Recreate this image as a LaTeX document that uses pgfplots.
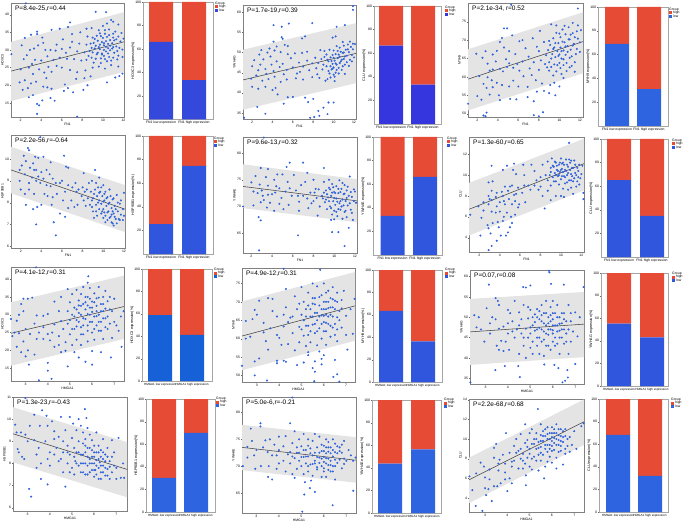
\documentclass[border=0pt]{standalone}
\usepackage{fontspec}
\setmainfont{Liberation Sans}
\usepackage{pgfplots}
\pgfplotsset{compat=1.18}
\definecolor{bandc}{HTML}{E4E4E4}
\definecolor{ptc}{HTML}{2F62DC}
\definecolor{redc}{HTML}{E64B35}
\definecolor{fitc}{HTML}{444444}
\definecolor{bluea}{HTML}{3548DC}
\definecolor{blueb}{HTML}{3636DE}
\definecolor{bluec}{HTML}{2F64E0}
\definecolor{blued}{HTML}{3056DE}
\definecolor{bluee}{HTML}{1660D8}
\newcommand{\tk}{\fontsize{3.4}{3.6}\selectfont}
\newcommand{\lb}{\fontsize{3.7}{4}\selectfont}
\newcommand{\hmf}{\fontsize{3.05}{3.4}\selectfont}
\newcommand{\ttl}{\fontsize{6.5}{7}\selectfont}
\pgfplotsset{
  base/.style n args={4}{scale only axis, anchor=north west,
    at={(#1pt,{(523-#3)*1pt})}, width={(#2-#1)*1pt}, height={(#4-#3)*1pt},
    /pgf/number format/assume math mode=true,
    xtick pos=bottom, ytick pos=left, tick align=outside, major tick length=1pt,
    tick style={line width=.2pt,black!60},
    xticklabel style={font=\tk,inner sep=.8pt},
    yticklabel style={font=\tk,inner sep=.8pt},
    xlabel style={font=\tk,inner sep=.5pt},
    ylabel style={font=\tk,inner sep=.5pt},
    scaled ticks=false},
  sc/.style n args={4}{base={#1}{#2}{#3}{#4},
    axis line style={line width=.25pt,black!50}},
  br/.style n args={6}{base={#1}{#2}{#3}{#4},
    axis line style={line width=.25pt,black!35},
    ymin=0, ymax=100, xtick={0,1},
    xmin={(#1-#5)/(#6-#5)}, xmax={1+(#2-#6)/(#6-#5)},
    ybar stacked, bar width=24pt,
    xticklabel style={font=\tk,inner sep=.8pt},
    ylabel style={font=\lb,inner sep=.5pt},
    ylabel shift=-1pt},
  hm/.style={xticklabel style={font=\hmf,inner sep=.8pt}},
  band/.style={fill=bandc,draw=none},
  fit/.style={line width=.55pt,fitc},
  pts/.style={only marks,mark=*,mark size=.8pt,mark options={fill=ptc,draw=none},color=ptc},
}
\newcommand{\ptext}[1]{\node[anchor=west,font=\ttl,inner sep=0pt] at (axis description cs:0.035,0.95) {#1};}
\newcommand{\grp}[3]{%
  \node[anchor=west,font=\tk,inner sep=0pt] at (#1pt,{(523-#2-1.5)*1pt}) {Group};
  \fill[redc] (#1pt,{(523-#2-6.5)*1pt}) rectangle ({(#1+3)*1pt},{(523-#2-3.5)*1pt});
  \fill[#3] (#1pt,{(523-#2-10)*1pt}) rectangle ({(#1+3)*1pt},{(523-#2-7)*1pt});
  \node[anchor=west,font=\tk,inner sep=0pt] at ({(#1+4)*1pt},{(523-#2-5)*1pt}) {high};
  \node[anchor=west,font=\tk,inner sep=0pt] at ({(#1+4)*1pt},{(523-#2-8.5)*1pt}) {low};
}
\newcommand{\bars}[5]{%
  \addplot[fill=#1,draw=none] coordinates {(0,#2)(1,#3)};
  \addplot[fill=redc,draw=none] coordinates {(0,#4)(1,#5)};
}
\begin{document}
\begin{tikzpicture}
\useasboundingbox (0,0) rectangle (685pt,523pt);

% ---------- row 1
\begin{axis}[sc={11}{124}{3}{117}, xmin=1.06,xmax=12.05,ymin=11,ymax=43.3, xtick={2,4,...,12}, ytick={15,20,...,40}, xlabel={FN1}, ylabel={HOXC3}]
\addplot[band] coordinates {(1.06,32.3)(12.05,40.7)(12.05,23.8)(1.06,15.5)} -- cycle;
\addplot[pts] coordinates {(2.5,43.2)(1.1,28.8)(3.6,11.9)(7.5,11.1)(3.8,14.3)(3.6,14.7)(4.1,15.7)(4.9,16.4)(5.3,15.6)(2.8,16.6)(3.2,17.2)(2.2,18.7)(2.7,19.2)(3,20.5)(1.9,20.8)(2.4,21.4)(3.5,21)(4.2,19.6)(4.6,19.4)(5,19)(6.2,18.4)(6.6,19.2)(7.1,18)(8.1,18.7)(8.5,20)(6.3,20.2)(7.4,21.8)(8.2,22)(8.8,22.5)(10.4,20.8)(11.6,22.6)(11.2,22.2)(11.9,23.3)(2,24.5)(2.8,25)(3.2,23.2)(3.8,24.5)(4.3,23.6)(5,23.8)(5.5,25.5)(6,25)(6.8,24.3)(7.5,23.7)(8.3,24.2)(9,25)(9.6,25.3)(10.2,24.7)(10.8,25.7)(11.5,25.3)(2.3,27.4)(2.6,28.5)(3.4,27.2)(4,27)(4.6,28.2)(5.2,27.2)(5.8,27.8)(6.5,27.5)(7.2,27.4)(7.9,27)(8.4,27.2)(8.9,27.8)(9.3,27.5)(9.8,27.6)(10.2,27.4)(10.6,28)(11,27.8)(11.5,28.4)(2.1,31.3)(3.3,30.4)(3.7,31.3)(4.4,30)(4.9,30)(5.4,29.8)(6,30.3)(6.8,30.7)(7.5,29.6)(8.2,29.3)(8.7,29.7)(9,29.3)(9.2,30.4)(9.5,29.2)(9.7,30.2)(9.9,29)(10.1,30)(10.3,29.6)(10.5,30.5)(10.7,29.9)(11,30.8)(11.4,29.7)(11.9,30.1)(8.4,31.5)(8.8,31.8)(9.1,32)(9.3,31.2)(9.5,32.6)(9.7,31.5)(9.9,32.2)(10.1,31.3)(10.3,32.5)(10.5,31.7)(10.7,32.8)(10.9,31.9)(11.1,32.7)(11.3,33)(11.7,32.4)(12,33.2)(2.4,33.4)(3,34.3)(3.6,34.5)(4.1,33.5)(5,35.7)(5.8,36)(6.6,36.5)(7,34.5)(7.8,35)(8.5,33.8)(9,33.5)(9.4,34)(9.8,33.9)(10.2,34.6)(10.6,34.2)(11,34.6)(8.9,36.2)(9.6,35.6)(10,36.8)(10.4,37.5)(10.8,38.5)(11,38)(11.5,37.2)(3.6,35.2)(6.8,37.8)(8.4,36)(9.3,40.8)(10.3,40.7)(8.6,28.3)(8.9,30.6)(9.1,26.4)(9.2,33.1)(9.4,28.8)(9.6,30.8)(9.7,34.7)(9.8,26.3)(9.9,28.7)(10,33.4)(10.1,31.9)(10.1,28.3)(10.2,35.6)(10.3,30.9)(10.4,26.8)(10.4,33.7)(10.5,29)(10.6,35.8)(10.7,31.2)(10.8,27)(10.9,30.4)(11,33.5)(11.1,29.2)(11.2,35.2)(11.3,31)(11.4,27.3)(11.5,33.8)(11.6,30.6)(11.8,34.8)(11.9,28)(2.9,30)(4.2,32)(3.1,26)(4.7,25.2)(5.5,31.5)(6.4,29.2)(7,32.3)(7.7,31.8)(6.1,33)(4.5,22)};
\addplot[fit] coordinates {(1.06,24)(12.05,32.3)};
\ptext{P=8.4e-25,r=0.44}
\end{axis}
\begin{axis}[br={143}{213}{2}{119.5}{161}{194}, ytick={20,40,...,100}, xticklabels={FN1 low expression,FN1 high expression}, ylabel={HOXC3 expression(\%)}]
\bars{bluea}{66}{33.5}{34}{66.5}
\end{axis}
\grp{215}{2}{bluea}

\begin{axis}[sc={243}{356}{5}{119}, xmin=1.1,xmax=12.2,ymin=33.5,ymax=61.8, xtick={2,4,...,12}, ytick={35,40,...,60}, xlabel={FN1}, ylabel={YWHAG}]
\addplot[band] coordinates {(1.1,50.7)(12.2,57.3)(12.2,42.4)(1.1,35.8)} -- cycle;
\addplot[pts] coordinates {(11.9,61.5)(11.9,60.6)(4.1,56.8)(4.9,56.4)(5.6,57.2)(7.9,57.3)(10.3,56.4)(11.1,56.8)(4.1,52.7)(4.9,53.8)(5,53.4)(6.9,53.5)(7.2,54)(9.9,53.7)(10.2,54)(3.7,51)(4.4,51.5)(5.2,51.9)(5.5,51.6)(2.9,50.6)(3.5,50)(4.2,50.5)(4.8,50.1)(5.5,49.6)(6.2,49.8)(6.9,49.9)(7.4,50.2)(2.2,48.1)(2.7,49.5)(3.1,48.3)(3.8,49)(4.4,47.8)(5,47.2)(5.8,48.6)(6.6,47.5)(7.4,48)(2,46.6)(2.6,45.6)(3.3,45.9)(4.1,45.4)(4.7,46.4)(5.4,45.7)(6,46.3)(6.7,45.2)(7.6,45.6)(8.3,46.1)(1.9,43.5)(2.4,44.3)(3,43)(3.6,43.4)(4.2,44)(4.8,42.7)(5.4,43.3)(6.3,43.6)(7,43.3)(7.9,43.9)(8.6,43.7)(9.2,43)(2,41.5)(2.6,41)(3.3,41.5)(4,40.7)(4.5,39.6)(4.3,41.2)(5.5,38.9)(6,39)(7.2,38.8)(7.5,37.7)(8,38.5)(9.5,37.6)(10,37.6)(8.5,35.5)(9,36.3)(9.4,34.7)(8.1,34)(8.6,34.3)(1.2,33.8)(2.5,36.5)(3.3,34.8)(5.1,37.3)(7.7,33.8)(8.5,47.4)(8.8,48.4)(9,47)(9.1,48.9)(9.3,46.6)(9.3,49.5)(9.5,45.4)(9.5,47.8)(9.6,44.8)(9.7,46.6)(9.7,48.8)(9.8,45.8)(9.9,47.2)(9.9,49.4)(10,44.5)(10,46.3)(10.1,48)(10.2,45)(10.2,49.6)(10.3,47)(10.4,50.4)(10.4,48.6)(10.5,46.2)(10.6,49)(10.6,51.2)(10.7,47.8)(10.8,45.7)(10.9,49.9)(11,48.4)(11,51.7)(11.1,47)(11.2,50.7)(11.3,49.2)(11.4,52)(11.5,50.1)(11.6,48.2)(11.7,51.4)(11.8,49.4)(11.9,50.8)(12.1,52.1)(9.4,43.4)(10.1,42.9)(8.9,45.8)(9.1,50.4)(9.4,48.2)(9.6,50.7)(9.7,43.8)(9.8,47.9)(9.9,46)(10,50.5)(10,48.7)(10.1,44)(10.2,47.3)(10.3,51.6)(10.3,45.7)(10.5,49.5)(10.5,44.8)(10.6,47.4)(10.7,50.2)(10.8,48.2)(10.9,46.6)(10.9,52.6)(11,50)(11.1,44.7)(11.1,49)(11.3,47.6)(11.4,50.8)(11.5,46.7)(11.6,52.7)(11.8,47.8)(11.9,52.2)(12,48.8)(8.2,48.7)(7.9,47.3)(8.4,44.6)(8.7,50.6)(6.4,44.8)(5.1,44.6)(3.9,47)(2.8,47)(3.4,44.7)(7,46.5)};
\addplot[fit] coordinates {(1.1,43.2)(12.2,49.8)};
\ptext{P=1.7e-19,r=0.39}
\end{axis}
\begin{axis}[br={374}{441}{6}{124}{391}{423}, ytick={20,40,...,100}, xticklabels={FN1 low expression,FN1 high expression}, ylabel={CLU expression(\%)}]
\bars{blueb}{66.4}{33.3}{33.6}{66.7}
\end{axis}
\grp{445}{6}{blueb}

\begin{axis}[sc={468}{583}{3}{117}, xmin=1.09,xmax=12.3,ymin=49.1,ymax=80.1, xtick={2,4,...,12}, ytick={50,55,...,75}, xlabel={FN1}, ylabel={MYH9}]
\addplot[band] coordinates {(1.09,67.5)(12.3,77.6)(12.3,61)(1.09,50.9)} -- cycle;
\addplot[pts] coordinates {(5.3,79.6)(11.8,78.6)(4.6,73.2)(4.9,73.2)(1.1,52.7)(2.9,50.3)(2.6,49.5)(2.8,49.3)(7.5,49.6)(8.4,50.4)(8,49.3)(1.9,66.3)(2.2,60.2)(2.5,65.2)(2.8,67)(3,63.6)(3.2,61.7)(3.5,66.1)(3.8,64.2)(3.9,67.1)(4.2,69.5)(4.4,70.6)(4.6,68)(4.8,64.8)(5.1,67)(5.4,71.3)(5.7,66.2)(6.1,69.7)(6.4,70)(6.7,67.8)(7,65.5)(7.4,70.5)(7.8,68.2)(8.1,72.5)(8.5,69.5)(2.6,58.1)(3,59.9)(3.2,55.2)(3.5,57.2)(3.9,58.4)(4.1,55)(4.4,57.8)(4.5,61.5)(4.9,62.7)(5.1,57.4)(5.5,59)(5.2,54)(5.8,53.9)(6.1,61.7)(6.5,60.2)(6.9,57.3)(7.1,62.3)(7.5,64)(7.7,59.1)(8,61.9)(8.3,58.2)(8.6,63.5)(9,61.7)(9.1,57.8)(2,54.8)(2.4,53.8)(3.4,59.1)(4.2,53.7)(5.5,62.5)(6.9,54.5)(7.5,53.4)(8.5,56.2)(9,55.6)(9.6,55)(9.5,58.4)(10,57.4)(10.4,59.7)(8.7,65.9)(8.9,67.3)(9,64)(9.1,68.7)(9.2,62.7)(9.3,66.2)(9.4,70.5)(9.5,63.4)(9.5,68)(9.6,65.4)(9.7,61.5)(9.7,72)(9.8,67)(9.9,69.2)(10,63.8)(10,66.1)(10.1,70.8)(10.1,68)(10.2,60.8)(10.2,65)(10.3,72.9)(10.4,67.2)(10.4,63.2)(10.5,69.4)(10.6,66)(10.6,71.6)(10.7,61.6)(10.8,68.4)(10.9,73.5)(11,65.2)(11,70.2)(11.1,67.4)(11.2,63)(11.3,71.9)(11.3,74.7)(11.4,69)(11.6,66.2)(11.7,72.4)(11.8,74)(12,69.4)(12.1,72.7)(11.5,61.4)(9.2,74.3)(9.7,74)(8.8,62.6)(9,69.8)(9.2,65)(9.4,67.6)(9.4,60.4)(9.6,69.2)(9.8,63.2)(9.9,65.7)(10,71.8)(10.1,62.4)(10.2,67)(10.3,69.6)(10.4,64.8)(10.5,73.9)(10.6,68.3)(10.7,63.8)(10.8,66.8)(10.9,70.2)(11,62.6)(11.1,71.5)(11.2,65.6)(11.3,68.5)(11.5,64)(11.5,70.8)(11.7,67.6)(11.8,70.4)(12,66.8)(8,67)(8.2,64.5)(7.3,60.5)(6.4,64.2)(5.9,63.5)(5.1,63.7)(4.2,62.2)(3.5,62)(2.9,57)(6,57.4)(7.8,56)};
\addplot[fit] coordinates {(1.09,59.4)(12.3,69.6)};
\ptext{P=2.1e-34, r=0.52}
\end{axis}
\begin{axis}[br={598}{668}{7}{126}{617}{649}, ytick={20,40,...,100}, xticklabels={FN1 low expression,FN1 high expression}, ylabel={MYH9 expression(\%)}]
\bars{bluec}{69}{31}{31}{69}
\end{axis}
\grp{669}{8}{bluec}

% ---------- row 2
\begin{axis}[sc={11}{125}{135}{248}, xmin=1.06,xmax=12.1,ymin=5.92,ymax=11.1, xtick={2,4,...,12}, ytick={6,7,...,10}, xlabel={FN1}, ylabel={HSP90B1}]
\addplot[band] coordinates {(1.06,10.56)(12.1,8.8)(12.1,6.65)(1.06,8.43)} -- cycle;
\addplot[pts] coordinates {(3.9,11)(2.7,10.5)(2.8,10.4)(2.3,10.15)(6.2,10.15)(3.5,7)(5.4,6.5)(5.2,7.1)(5.8,7.5)(6.3,7.35)(2.5,7.9)(3.2,7.7)(3.6,7.8)(4,7.9)(3.3,8.4)(2.8,8.6)(2,8.6)(1.9,9)(2.4,9.3)(1.9,9.5)(2.1,9.7)(2.5,9.9)(2.9,9.6)(3.2,9.8)(3.4,10.1)(3.7,10.05)(3.5,9.5)(4,9.4)(4.2,10.1)(4.5,9.5)(4.2,9.1)(3.9,8.9)(3.5,9)(3.1,9.15)(2.8,8.9)(4.5,8.8)(4.9,8.75)(4.8,9.3)(4.9,9.85)(5.1,9.1)(5.5,8.4)(4.6,8.3)(5.1,8.25)(5,7.9)(5.8,8.9)(6,9)(6.4,9.65)(6.6,9.6)(6.3,8.5)(6.6,8.8)(7,8.7)(7.3,8.9)(7.5,7.9)(7.2,7.8)(6.6,7.75)(6.9,8.1)(7.6,8.6)(8,8.7)(8.1,9.35)(8.1,8.1)(8.3,7.85)(8.6,8.9)(8.9,9)(8.9,7.8)(9.2,9.5)(9.3,8.9)(9.6,9.15)(9.1,7.3)(8.8,8.5)(9,8.2)(9.2,8.6)(9.3,7.9)(9.4,8.3)(9.5,8.7)(9.6,7.7)(9.6,8.1)(9.7,8.5)(9.8,7.5)(9.8,7.95)(9.9,8.3)(10,7.3)(10,8.8)(10,7.7)(10.1,8.1)(10.2,7.4)(10.2,8.5)(10.3,7.85)(10.4,7.2)(10.4,8.25)(10.5,7.6)(10.6,8)(10.6,8.6)(10.7,7.35)(10.8,7.75)(10.9,8.15)(10.9,7.05)(11,7.5)(11.1,7.85)(11.2,7.25)(11.3,8.35)(11.4,7.6)(11.5,7.25)(11.6,7.95)(11.7,7.45)(11.9,7.7)(12,8.45)(12,7.4)(11,6.95)(10.8,7.45)(9,7.6)(9.4,7.4)(8.9,8.1)(9.1,8.4)(9.3,7.6)(9.5,8)(9.6,8.45)(9.8,8.7)(9.9,7.6)(10,8.05)(10.1,7.55)(10.1,8.4)(10.2,7.1)(10.3,8.2)(10.4,7.55)(10.5,7.95)(10.6,7.3)(10.7,8.3)(10.8,7.1)(10.9,7.6)(11,8.2)(11.1,7.35)(11.2,7.7)(11.3,7.05)(11.4,8)(11.6,7.2)(11.7,8.1)(11.9,7.2)(8.2,8.5)(8.5,8.2)(8.7,7.9)(8.4,8.6)(7.9,8.3)(7.4,8.5)(6.1,8.1)(5.4,8.9)(4.3,8.4)(3.7,9.2)(3.3,9.5)(2.4,8.4)};
\addplot[fit] coordinates {(1.06,9.5)(12.1,7.7)};
\ptext{P=2.2e-56,r=-0.64}
\end{axis}
\begin{axis}[br={143}{213}{136}{254}{161}{194}, ytick={20,40,...,100}, xticklabels={FN1 low expression,FN1 high expression}, ylabel={HSP90B1 expression(\%)}]
\bars{blued}{25.4}{74.6}{74.6}{25.4}
\end{axis}
\grp{214}{137}{blued}

\begin{axis}[sc={243}{357}{137}{253}, xmin=1.19,xmax=12.2,ymin=61.3,ymax=83, xtick={2,4,...,12}, ytick={65,70,...,80}, xlabel={FN1}, ylabel={YWHAE}]
\addplot[band] coordinates {(1.19,77.9)(12.2,75.1)(12.2,67.05)(1.19,69.7)} -- cycle;
\addplot[pts] coordinates {(3.2,82.9)(2.75,61.8)(6.5,64.6)(11,62.6)(9.8,65.2)(10.4,65.2)(11.4,66)(5.7,78.2)(7,78.2)(9,77.2)(5.4,77.4)(2.9,77.2)(3.6,77)(1.2,70)(2.7,68)(2.9,67.4)(2,74.5)(2.2,72.8)(2.4,75.7)(2.8,74.1)(3,73)(3.2,71.2)(3.4,75.5)(3.6,73.9)(3.8,70.7)(4,72.3)(4.2,75)(4.5,76)(4.7,73.4)(4.9,71.6)(5,76)(5.1,69.5)(5.3,72.8)(5.5,74.6)(5.6,70.3)(5.9,72)(6.1,75.9)(6.3,73)(6.6,70.9)(6.6,69.2)(6.8,74)(7,72)(7.2,74.6)(7.4,76.3)(7.5,69.7)(7.7,72.6)(8,75)(8,71)(8.2,73.3)(2.2,70.2)(2.9,70.8)(3.5,69.8)(4.2,69.2)(4.7,70.5)(4.3,72.6)(3.1,72)(8.4,68.3)(8.9,71.5)(8.5,73.2)(8.8,72)(9,74.6)(9.1,70.8)(9.2,73)(9.3,69.5)(9.4,71.7)(9.5,75)(9.6,73.2)(9.6,70)(9.7,72)(9.8,68.5)(9.8,74.2)(9.9,71)(10,69.2)(10,72.7)(10.1,70.3)(10.2,73.8)(10.2,71.5)(10.3,68.2)(10.4,72.5)(10.4,69.5)(10.5,74.9)(10.6,71)(10.7,73.3)(10.7,70)(10.8,67.7)(10.9,72.3)(11,69)(11,74)(11.1,71)(11.2,73)(11.2,68)(11.3,70.2)(11.4,72)(11.5,75.6)(11.6,69.4)(11.7,71.8)(11.8,67.5)(11.9,73.2)(12.1,70.7)(12,72.8)(10,67.6)(9.7,67.5)(9,72.6)(9.2,71.3)(9.3,72.3)(9.5,71)(9.5,73.5)(9.7,69.7)(9.8,72.6)(9.9,73.6)(10,71.6)(10.1,72.5)(10.2,69)(10.3,70.9)(10.4,73.3)(10.5,70.6)(10.6,72.7)(10.6,69.4)(10.8,71.3)(10.8,74.4)(10.9,70.2)(11,72.4)(11.1,69.2)(11.2,71.6)(11.3,73.7)(11.5,70.6)(11.6,72.7)(11.7,68.8)(11.9,71)(8.6,70)(8.3,71.6)(8.1,72.6)(7.8,70.6)(7.4,71.5)(6.5,72)(5.7,73.4)(4.4,73.8)(3.6,72.2)(2.6,72.5)};
\addplot[fit] coordinates {(1.19,73.75)(12.2,71.05)};
\ptext{P=9.6e-13,r=0.32}
\end{axis}
\begin{axis}[br={373}{442}{137}{255}{392.5}{425}, ytick={20,40,...,100}, xticklabels={FN1 low expression,FN1 high expression}, ylabel={YWHAE expression(\%)}]
\bars{blued}{33.1}{66.3}{66.9}{33.7}
\end{axis}
\grp{447}{137}{blued}

\begin{axis}[sc={469}{584}{137}{252}, xmin=0.98,xmax=12.26,ymin=2.62,ymax=13.66, xtick={2,4,...,12}, ytick={4,6,...,12}, xlabel={FN1}, ylabel={CLU}]
\addplot[band] coordinates {(0.98,9.25)(12.26,13.5)(12.26,8.54)(0.98,4.2)} -- cycle;
\addplot[pts] coordinates {(10.8,13.1)(3.2,10.9)(2.9,2.8)(3.2,3.2)(3.7,3.7)(1.1,6.2)(2.1,4.2)(12.2,8.3)(12.2,7.7)(3.1,4.4)(2.9,4.9)(3.9,5)(4.1,4.2)(4.6,4.2)(4.8,4.5)(5,5)(5.2,5.4)(4.3,5.6)(3.8,5.5)(3.3,5.4)(2.8,5.2)(2.2,5.9)(2.4,6.6)(2.9,7.2)(1.9,7)(3.2,6.5)(3.6,6.4)(4,6.5)(4.4,6)(4.7,6.4)(5.1,6)(5.5,6.2)(5.9,7.2)(2.4,7.4)(2.9,8)(3.2,7.6)(3.6,7.9)(4,7.4)(4.3,8)(4.5,7.2)(4.9,7.7)(5.2,7.2)(5.4,8.1)(5.8,6.9)(3.3,9.4)(2.9,9.3)(3.2,8.5)(3.7,8.3)(4.2,8.4)(4.5,8.9)(4.8,8.5)(5.2,9)(5.6,8.2)(5.8,8.8)(6.2,8.3)(6.5,7.4)(6.4,9)(6.8,9)(7,8.6)(4.3,10.5)(4.7,10.9)(5.3,10.5)(5.6,10.1)(5.4,11.1)(6.3,11)(6.4,10)(7.1,11)(7.4,10.4)(7.6,9.5)(7.8,8.6)(8.4,6.8)(8.2,8)(8.7,8.5)(9,9)(9,7.6)(9.5,8)(8,9.8)(8.2,11)(8.5,10)(8.7,11.3)(9,10.7)(8.9,10)(9.1,11.6)(9.2,9.8)(9.3,10.8)(9.4,10.2)(9.5,9.4)(9.5,11.2)(9.6,10.5)(9.7,9.9)(9.8,11)(9.8,9.1)(9.9,10.3)(10,11.6)(10,9.6)(10.1,10.6)(10.2,8.7)(10.2,11.2)(10.3,9.9)(10.4,10.5)(10.4,9.2)(10.5,11.5)(10.6,10)(10.7,8.6)(10.7,10.8)(10.8,9.5)(10.9,11.2)(11,10.1)(11,8.8)(11.1,10.7)(11.2,9.4)(11.3,11.4)(11.4,10.2)(11.5,8.9)(11.6,10.7)(11.7,9.8)(11.8,9.1)(11.8,11)(12,10.1)(12.1,10.9)(11.2,8.2)(10.3,7.9)(10,8)(9,10.3)(9.2,10.9)(9.3,9.4)(9.4,11.3)(9.5,10)(9.6,10.9)(9.7,10.4)(9.8,10)(9.9,11.2)(10,10.5)(10.1,9.9)(10.1,11.1)(10.2,10.3)(10.3,11)(10.4,9.8)(10.5,10.4)(10.6,11)(10.6,9.3)(10.7,10.2)(10.8,11.5)(10.9,10.5)(11,9.5)(11,11.4)(11.1,9.9)(11.2,10.7)(11.3,9.7)(11.4,11)(11.5,10)(11.6,9.4)(11.7,10.4)(11.9,9.7)(3.7,7)(4.4,7.5)(5,8.9)(3,7.7)(5.5,7.5)(8,8.9)(8.7,9.5)(7.4,9)};
\addplot[fit] coordinates {(0.98,6.72)(12.26,11.1)};
\ptext{P=1.3e-60,r=0.65}
\end{axis}
\begin{axis}[br={601}{668}{139}{257}{619}{652}, ytick={20,40,...,100}, xticklabels={FN1 low expression,FN1 high expression}, ylabel={CLU expression(\%)}]
\bars{blued}{65.2}{34.8}{34.8}{65.2}
\end{axis}
\grp{672}{139}{blued}

% ---------- row 3
\begin{axis}[sc={11}{124}{267}{381}, xmin=2.34,xmax=7.44,ymin=11.4,ymax=43.4, xtick={3,...,7}, ytick={15,20,...,40}, xlabel={HMGA1}, ylabel={HOXC3}]
\addplot[band] coordinates {(2.34,33.5)(7.44,41)(7.44,23.2)(2.34,15.7)} -- cycle;
\addplot[pts] coordinates {(3.47,43.3)(5.83,40.8)(5.8,39)(2.34,28.8)(4.17,12)(4,14.3)(4,16.5)(3.6,11.6)(3.15,16)(4.9,15.5)(6,16)(6.85,18)(7.33,21)(7.42,31)(2.5,25)(2.4,24)(2.7,24.8)(2.8,33)(2.9,34.5)(2.9,31)(3.1,34.5)(3.3,34.8)(2.7,30)(2.6,28.3)(3,26)(2.9,22.5)(2.6,21)(3.1,20)(2.8,19.5)(3,18.3)(3.4,18.8)(3.6,25)(3.4,27.5)(3.2,24.6)(3.5,29.8)(3.5,23.2)(3.8,23.2)(3.8,29.7)(4,30.2)(4,24.6)(4.1,22.8)(4.3,27.3)(4.3,33.7)(4.3,21)(4.5,24)(4.6,19.5)(4.6,28.2)(4.6,35)(4.8,19.9)(4.8,22.3)(4.9,31)(4.9,27.5)(4.9,37.2)(5,24.5)(5,33.5)(5.1,21.5)(5.1,30)(5.1,35.8)(5.2,26)(5.2,19.5)(5.2,32)(5.3,28.5)(5.3,37)(5.3,23)(5.4,30.5)(5.4,34)(5.4,18)(5.5,26.5)(5.5,32.5)(5.5,21.5)(5.5,35.8)(5.6,29)(5.6,37.8)(5.6,24.5)(5.7,31.5)(5.7,33.5)(5.7,16.8)(5.8,27)(5.8,30.2)(5.8,35)(5.8,22.5)(5.9,32)(5.9,28)(5.9,37.5)(6,25)(6,30.8)(6,33.7)(6,19.8)(6.1,29.5)(6.1,36)(6.1,23)(6.2,32.5)(6.2,27)(6.2,34.6)(6.3,30)(6.3,25.5)(6.3,37.8)(6.4,28)(6.4,33)(6.4,19.5)(6.5,31)(6.5,35)(6.5,23.2)(6.6,29)(6.6,36.7)(6.7,26)(6.7,33.8)(6.8,31.5)(6.9,23.5)(7,34.5)(7,28)(7.1,27)(7.2,25.5)(7.3,29.5)(5,28.5)(5.1,26)(5.2,29.5)(5.3,31.5)(5.3,26.7)(5.4,28)(5.4,32.6)(5.5,30)(5.5,24.5)(5.6,33)(5.6,27)(5.7,28.8)(5.7,35)(5.8,32.6)(5.8,25.5)(5.9,30)(5.9,34.5)(6,28)(6,32)(6.1,26)(6.1,33.5)(6.2,29.6)(6.2,31)(6.3,34.8)(6.3,28)(6.4,31)(6.4,25.5)(6.5,29)(6.5,33)(6.6,31.7)(6.6,26.5)(6.7,29.5)(6.8,35)(6.8,27.5)(6.9,31)(4.5,31)(4.7,26)(4.2,25)(3.8,26.5)(4.5,21.5)};
\addplot[fit] coordinates {(2.34,24.8)(7.44,32.3)};
\ptext{P=4.1e-12,r=0.31}
\end{axis}
\begin{axis}[br={142}{212}{269}{381}{160}{192}, hm, ytick={0,20,...,100}, xticklabels={HMGA1 low expression,HMGA1 high expression}, ylabel={HOXC3 expression(\%)}]
\bars{bluee}{58.9}{41.1}{41.1}{58.9}
\end{axis}
\grp{214}{268}{bluee}

\begin{axis}[sc={242}{355}{268}{382}, xmin=2.33,xmax=7.4,ymin=48.2,ymax=79.2, xtick={3,...,7}, ytick={50,55,...,75}, xlabel={HMGA1}, ylabel={MYH9}]
\addplot[band] coordinates {(2.33,70.1)(7.4,78.1)(7.4,59.4)(2.33,51.4)} -- cycle;
\addplot[pts] coordinates {(4.2,79)(5.84,78.7)(2.33,52.6)(2.9,50)(3.45,48.6)(5.57,48.4)(6.7,48.3)(6.6,50.3)(6.43,49.6)(7.3,61.3)(7.06,57)(7.38,70.8)(3.9,53.3)(2.9,53.8)(3.1,54.6)(3.9,54)(4.2,54)(4.3,53.7)(4.8,52.8)(5.1,53.5)(5.3,55.5)(5.3,56.3)(5.6,53.8)(5.5,52)(5.6,51)(5.8,56.5)(5.9,54.5)(6,55.5)(5.9,53)(6.5,54.2)(2.5,64.8)(2.5,60)(2.7,60.5)(2.8,65.3)(2.9,67.8)(3,66.5)(3.1,70.3)(3.3,64.3)(3.3,61.7)(3.4,59.3)(3.5,71)(3.5,57)(3.6,62.8)(3.7,70.8)(3.7,67.5)(3.9,66)(4,60.2)(4.1,58.3)(4.2,63.3)(4.3,73.5)(4.3,68.5)(4.4,58.5)(4.5,65.7)(4.6,61.5)(4.7,71.5)(4.7,56.8)(4.8,68)(4.9,63.2)(4.9,59)(5,74)(5,66.5)(5.1,60.8)(5.1,70)(5.2,58)(5.2,63.5)(5.2,68)(5.3,72.5)(5.3,61)(5.4,66)(5.4,59)(5.5,75)(5.5,69.5)(5.5,63.8)(5.6,61.5)(5.6,67)(5.6,71)(5.7,65)(5.7,58.2)(5.7,74.2)(5.8,69)(5.8,62.8)(5.9,66.3)(5.9,71.8)(5.9,60)(6,68)(6,64.5)(6,75)(6.1,62)(6.1,70)(6.1,66.5)(6.1,58.3)(6.2,73)(6.2,68.3)(6.2,64)(6.3,60.5)(6.3,71)(6.3,66.5)(6.4,63)(6.4,74)(6.4,68.5)(6.5,61)(6.5,70.3)(6.6,65.8)(6.6,72.5)(6.6,59.3)(6.7,67.5)(6.8,63)(6.8,70.5)(6.9,73)(7,66.2)(7,61)(7.2,68)(5,62.5)(5.1,65)(5.2,66)(5.3,63.5)(5.3,69)(5.4,62)(5.4,68)(5.5,66)(5.5,71)(5.6,64)(5.6,69.3)(5.7,67)(5.7,62)(5.8,66)(5.8,71.3)(5.9,64)(5.9,68)(6,62)(6,66.2)(6,70)(6.1,64.3)(6.1,68)(6.1,72.5)(6.2,66)(6.2,70)(6.3,63.5)(6.3,68.5)(6.4,66)(6.4,70.7)(6.5,64)(6.5,68)(6.6,70)(6.6,62.5)(6.7,65)(6.8,68.2)(4.6,66)(4.4,64.5)(4.9,69.5)(4.2,66.5)(3.9,61)};
\addplot[fit] coordinates {(2.33,60.7)(7.4,68.9)};
\ptext{P=4.9e-12,r=0.31}
\end{axis}
\begin{axis}[br={373}{442}{270}{382}{391}{423}, hm, ytick={0,20,...,100}, xticklabels={HMGA1 low expression,HMGA1 high expression}, ylabel={MYH9 expression(\%)}]
\bars{blued}{63.5}{36.2}{36.5}{63.8}
\end{axis}
\grp{445}{268}{blued}

\begin{axis}[sc={470}{584}{270}{384}, xmin=2.31,xmax=7.39,ymin=33.6,ymax=61.6, xtick={3,...,7}, ytick={35,40,...,60}, xlabel={HMGA1}, ylabel={YWHAG}]
\addplot[band] coordinates {(2.31,54.5)(7.39,56.2)(7.39,40.2)(2.31,38.3)} -- cycle;
\addplot[pts] coordinates {(5.83,61.4)(5.85,61)(5.92,58.2)(3.15,58)(6.49,58)(4.68,57.4)(4.8,57.3)(5,57.8)(7.37,57.4)(2.33,34)(3.44,37)(3.86,38)(4.53,35.3)(4.46,38)(6.43,34)(6.55,34.4)(6.67,35.2)(6.65,37)(7,38.5)(6.25,37.5)(6.07,38.3)(5.62,38.4)(2.5,50.5)(2.6,47.5)(2.7,50)(2.8,47)(2.95,44)(3.2,48.5)(3.05,52.2)(3.2,46)(3.3,50)(3.45,49.5)(3.45,54.7)(3.55,54)(3.6,53)(3.6,47.2)(3.7,44.2)(3.5,43)(3.6,42)(3.8,41.7)(3.9,44)(4,51.8)(4,46)(4.05,42)(4.1,51)(4.2,49)(4.3,45)(4.3,54)(4.4,47)(4.5,51.2)(4.5,41)(4.6,46)(4.6,49.5)(4.7,43)(4.7,53)(4.8,47.2)(4.8,40)(4.9,49.7)(4.9,45)(5,42.5)(5,51.8)(5,47.5)(5.1,44)(5.1,50)(5.1,41)(5.2,46.7)(5.2,48.8)(5.3,43)(5.3,52)(5.3,50)(5.4,45)(5.4,47.4)(5.4,41)(5.5,49)(5.5,53)(5.5,44)(5.6,46.5)(5.6,51)(5.6,40.5)(5.7,48)(5.7,43)(5.7,54)(5.8,50)(5.8,45.7)(5.8,47)(5.9,52.5)(5.9,42)(5.9,49)(6,46)(6,44)(6,51)(6,54)(6.1,48)(6.1,43)(6.2,50)(6.2,46.5)(6.2,53)(6.3,48.4)(6.3,41)(6.3,45)(6.4,51)(6.4,47)(6.5,43.5)(6.5,49.5)(6.6,46)(6.7,53)(6.7,41)(6.8,49)(6.8,44)(6.9,46.5)(7,51.2)(7.1,45.3)(7.2,50)(5,46)(5.1,48)(5.2,50.7)(5.3,47)(5.3,45)(5.4,49.5)(5.4,51.5)(5.5,47)(5.5,50.5)(5.6,48.5)(5.6,44.5)(5.7,46)(5.7,51)(5.8,48.5)(5.8,43)(5.9,47)(5.9,50.5)(6,48)(6,46.8)(6,49.5)(6.1,45)(6.1,51)(6.2,48)(6.2,43.5)(6.3,46.7)(6.3,50)(6.4,48.5)(6.4,45)(6.5,47)(6.5,51)(6.6,44)(6.6,49)(6.7,47)(6.8,51)(4.5,48)(4.7,45)(4.2,46.5)(3.8,47.7)(4,48.5)(4.9,52.5)};
\addplot[fit] coordinates {(2.31,46.4)(7.39,48.3)};
\ptext{P=0.07,r=0.08}
\end{axis}
\begin{axis}[br={601}{668}{273}{386}{619}{652}, hm, ytick={0,20,...,100}, xticklabels={HMGA1 low expression,HMGA1 high expression}, ylabel={YWHAG expression(\%)}]
\bars{blued}{55.3}{43}{44.7}{57}
\end{axis}
\grp{672}{272}{blued}

% ---------- row 4
\begin{axis}[sc={13}{127}{397}{511}, xmin=2.34,xmax=7.48,ymin=5.85,ymax=11, xtick={3,...,7}, ytick={6,7,...,11}, xlabel={HMGA1}, ylabel={HSP90B1}]
\addplot[band] coordinates {(2.34,10.54)(7.48,8.96)(7.48,6.47)(2.34,8.05)} -- cycle;
\addplot[pts] coordinates {(2.9,10.95)(3.07,6.85)(3.16,6.5)(3.6,7.3)(3.9,7.05)(4.7,6.95)(5.58,10.45)(5.65,10.05)(2.44,9.75)(2.5,9.4)(2.7,9.4)(2.9,9.3)(2.55,8.65)(2.6,8.5)(2.75,8.3)(2.85,8.2)(3,9)(3.1,9.7)(3.3,10.2)(3.55,9.7)(3.65,10.4)(3.3,9.05)(3.5,8.7)(3.4,8.4)(3.6,8)(3.4,7.8)(3.85,10.15)(3.9,9.7)(4,8.5)(3.9,8.2)(4.1,9.9)(4.2,9.1)(4.2,9.45)(4,7.9)(4.3,8.7)(4.4,9.2)(4.5,10.1)(4.6,9)(4.5,8.2)(4.6,7.6)(4.7,9.5)(4.8,8.8)(4.8,8)(4.9,10.1)(4.9,8.4)(5,9.15)(5,7.8)(5.05,9.8)(5.1,8.7)(5.1,7.5)(5.15,8.1)(5.2,9.5)(5.2,8.5)(5.3,10)(5.3,7.9)(5.3,9)(5.4,8.4)(5.4,7.6)(5.4,9.7)(5.5,8.9)(5.5,8)(5.5,9.4)(5.6,8.5)(5.6,7.5)(5.6,9.1)(5.7,7.9)(5.7,8.7)(5.7,9.6)(5.8,8.2)(5.8,9.3)(5.8,7.6)(5.9,8.6)(5.9,8)(5.9,9.05)(6,7.4)(6,8.3)(6,8.8)(6.05,7.7)(6.1,8.15)(6.1,9.4)(6.2,8.5)(6.2,7.8)(6.2,7.3)(6.25,8.05)(6.3,8.6)(6.3,7.6)(6.4,8.2)(6.4,9.1)(6.4,7.9)(6.5,7.45)(6.5,8.4)(6.6,8.7)(6.6,7.75)(6.7,7.3)(6.7,8.1)(6.8,9.05)(6.8,7.6)(6.9,8.5)(7,7.8)(7.1,9.15)(7,7.3)(7.2,7.35)(7.35,7.35)(7.3,8)(5.1,8.3)(5.2,8)(5.3,8.5)(5.4,8)(5.5,7.6)(5.5,8.4)(5.6,8)(5.6,8.8)(5.7,8.3)(5.7,7.5)(5.8,8)(5.8,8.7)(5.9,7.7)(5.9,8.3)(6,8)(6,7.7)(6,8.5)(6.1,7.5)(6.1,8.5)(6.1,7.9)(6.2,8.2)(6.2,8.8)(6.3,7.9)(6.3,8.3)(6.3,7.3)(6.4,8.5)(6.4,7.6)(6.5,8.1)(6.5,7.8)(6.6,8.3)(6.6,7.45)(6.7,7.85)(6.8,8.3)(6.9,7.9)(4.8,8.5)(4.6,8.5)(4.4,8.1)(4.9,7.6)(3.8,9)(4.2,8.4)};
\addplot[fit] coordinates {(2.34,9.34)(7.48,7.73)};
\ptext{P=1.3e-23,r=-0.43}
\end{axis}
\begin{axis}[br={146}{215}{399}{512}{164}{196}, hm, ytick={0,20,...,100}, xticklabels={HMGA1 low expression,HMGA1 high expression}, ylabel={HSP90B1 expression(\%)}]
\bars{bluec}{30.2}{70.1}{69.8}{29.9}
\end{axis}
\grp{216}{397}{bluec}

\begin{axis}[sc={242}{356}{397}{513}, xmin=2.36,xmax=7.43,ymin=61.25,ymax=82.9, xtick={3,...,7}, ytick={65,70,...,80}, xlabel={HMGA1}, ylabel={YWHAE}]
\addplot[band] coordinates {(2.36,77.7)(7.43,75.4)(7.43,66.9)(2.36,69.25)} -- cycle;
\addplot[pts] coordinates {(4.59,82.8)(3.18,78)(3.18,77.4)(2.75,77)(4.5,78)(5.04,61.5)(5.13,64.7)(6.39,62.7)(7.31,65.4)(5.6,65.2)(5.38,65.9)(5.16,67)(5.43,67.3)(3.52,68)(3.7,67.5)(4.7,67.8)(7.41,71.6)(2.4,70)(2.6,73.6)(2.6,71.6)(2.8,74.7)(2.9,72)(3,73)(2.95,69.5)(3.2,70)(3.3,73.5)(3.4,74.8)(3.5,72.6)(3.6,75)(3.55,70)(3.8,74)(3.9,72)(3.9,69.5)(4,75.5)(4,73)(4.2,71)(4.2,73.7)(4.3,69)(4.3,75.6)(4.5,72.6)(4.5,70.5)(4.6,74.3)(4.6,68.5)(4.7,76.5)(4.7,71.5)(4.8,73.5)(4.8,69.5)(4.9,71)(4.9,75)(4.9,72.5)(5,70)(5,73.7)(5.1,68.5)(5.1,76)(5.1,71.7)(5.2,70.5)(5.2,73)(5.3,69)(5.3,75)(5.3,71.8)(5.4,73.3)(5.4,70.3)(5.5,68.2)(5.5,72)(5.5,74.7)(5.6,70.5)(5.6,76)(5.7,71.7)(5.7,73.5)(5.7,69.4)(5.8,75.5)(5.8,72.5)(5.8,70.6)(5.9,68)(5.9,74)(5.9,71.4)(6,72.8)(6,69.6)(6,70.8)(6.1,75)(6.1,73.5)(6.1,71.5)(6.1,68)(6.2,70.2)(6.2,72.7)(6.2,74.5)(6.3,71)(6.3,69)(6.3,73.5)(6.4,75)(6.4,71.8)(6.4,70)(6.5,72.6)(6.5,67.5)(6.5,74.2)(6.6,70.6)(6.7,72.8)(6.7,73.5)(6.8,69.6)(6.9,71.4)(6.9,74.7)(7,71)(7.1,73)(7.2,72)(7.3,71)(5.2,71.8)(5.3,70)(5.4,72.4)(5.5,70.4)(5.6,72.5)(5.6,71)(5.7,69.8)(5.8,71.6)(5.9,72.8)(5.9,70)(6,71.7)(6,73.8)(6,69)(6.1,70.5)(6.1,72.4)(6.2,71.4)(6.2,69.3)(6.2,73.5)(6.3,72.4)(6.3,70.2)(6.4,73)(6.4,69)(6.5,71.2)(6.5,70)(6.6,72.4)(6.6,73.7)(6.7,71.2)(6.8,72.5)(5,71.7)(4.8,72.5)(4.6,71.8)(4.4,72.2)(4,70.5)(3.7,72)(5.1,73)(5.3,73.8)(6.8,74)(6.9,70.4)};
\addplot[fit] coordinates {(2.36,73.5)(7.43,71.1)};
\ptext{P=5.0e-6,r=-0.21}
\end{axis}
\begin{axis}[br={372}{441}{400}{513}{390}{423}, hm, ytick={0,20,...,100}, xticklabels={HMGA1 low expression,HMGA1 high expression}, ylabel={YWHAE expression(\%)}]
\bars{bluec}{43.8}{56.2}{56.2}{43.8}
\end{axis}
\grp{444}{398}{bluec}

\begin{axis}[sc={469}{584}{399}{512}, xmin=2.28,xmax=7.44,ymin=2.58,ymax=14.07, xtick={3,...,7}, ytick={4,6,...,14}, xlabel={HMGA1}, ylabel={CLU}]
\addplot[band] coordinates {(2.28,8.1)(7.44,14.03)(7.44,9.4)(2.28,3.49)} -- cycle;
\addplot[pts] coordinates {(5.37,13.05)(2.88,2.7)(2.58,3.2)(2.43,4.8)(2.3,6.2)(3.3,3.7)(7.42,11.6)(7.32,11.3)(5.65,6)(4.83,6.3)(4.83,5.3)(4,4.7)(3.94,10.6)(2.6,6.5)(2.8,7.6)(2.95,7.2)(3,6.1)(3,5)(3.05,4.3)(3.15,4.9)(3.2,6.9)(3.2,5.9)(3.4,5.2)(3.4,9.1)(3.4,8.1)(3.5,9.5)(3.55,5.2)(3.6,6.8)(3.65,7.9)(3.7,5.5)(3.8,8.4)(3.9,5.9)(3.9,7.5)(3.9,6.6)(4.1,8.6)(4.1,6)(4.2,7.2)(4.2,5.5)(4.3,9.3)(4.3,7.8)(4.4,10)(4.5,8.8)(4.5,7)(4.6,10.5)(4.6,8)(4.7,8.5)(4.7,7)(4.8,9.6)(4.8,11.5)(4.8,7.5)(4.9,8.1)(4.9,9.9)(5,8.5)(5,10.6)(5,7.2)(5.1,9.5)(5.1,11)(5.1,6.9)(5.2,8.2)(5.2,10)(5.3,9)(5.3,7.8)(5.3,10.6)(5.4,8.4)(5.4,9.7)(5.4,6.8)(5.5,10.4)(5.5,7.8)(5.5,9.2)(5.5,11.5)(5.6,9.8)(5.6,8.4)(5.6,10.8)(5.7,7.2)(5.7,9.4)(5.7,10.3)(5.8,8.7)(5.8,10)(5.8,11.2)(5.8,7.7)(5.9,9.4)(5.9,10.6)(5.9,8.2)(6,9.8)(6,11.2)(6,7.6)(6,10.2)(6.1,8.9)(6.1,10.6)(6.1,9.6)(6.2,10)(6.2,8.1)(6.2,11.5)(6.2,7)(6.3,9.4)(6.3,10.4)(6.4,8.8)(6.4,11)(6.4,9.8)(6.5,10.2)(6.5,7.4)(6.6,9)(6.6,11)(6.7,10)(6.8,8.7)(6.9,9.4)(7,10.8)(7.1,9)(5,9)(5.2,9.5)(5.3,10)(5.4,9.1)(5.5,9.8)(5.5,8.6)(5.6,10.3)(5.7,9)(5.7,11)(5.8,9.4)(5.8,10.5)(5.9,10)(5.9,9)(6,10.6)(6,8.8)(6,9.3)(6.1,10.1)(6.1,11)(6.2,9.4)(6.2,10.6)(6.3,8.7)(6.3,9.9)(6.3,11)(6.4,10.3)(6.4,9.3)(6.5,10.8)(6.5,9.7)(6.6,10.3)(6.6,8.5)(6.7,9.3)(6.8,10.2)(4.6,9)(4.4,8.6)(4.7,7.8)(4.2,7.7)(4.9,9.2)(5.1,8)(3.6,7.5)};
\addplot[fit] coordinates {(2.28,5.85)(7.44,11.76)};
\ptext{P=2.2e-68,r=0.68}
\end{axis}
\begin{axis}[br={599}{668}{399}{512}{618}{650}, hm, ytick={0,20,...,100}, xticklabels={HMGA1 low expression,HMGA1 high expression}, ylabel={CLU expression(\%)}]
\bars{bluec}{68.2}{32}{31.8}{68}
\end{axis}
\grp{671}{398}{bluec}
\end{tikzpicture}
\end{document}
